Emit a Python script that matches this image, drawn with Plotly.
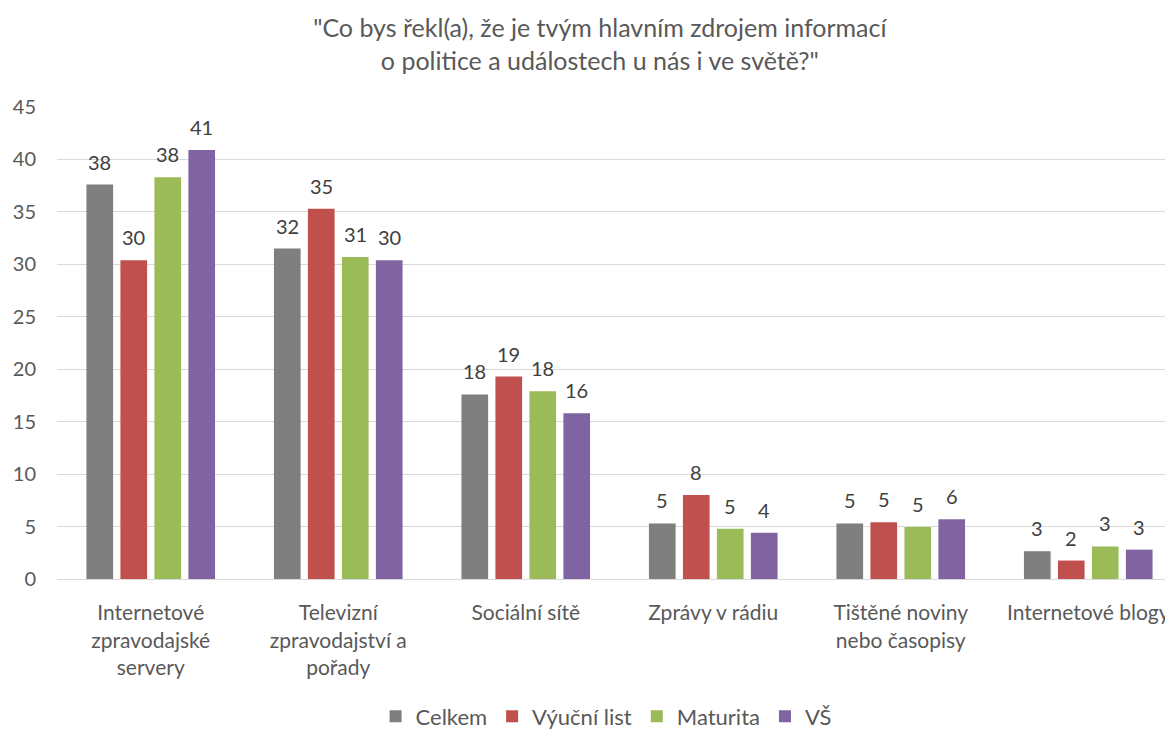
import plotly.graph_objects as go

categories = ["Internetové<br>zpravodajské<br>servery", "Televizní<br>zpravodajství a<br>pořady",
              "Sociální sítě", "Zprávy v rádiu", "Tištěné noviny<br>nebo časopisy", "Internetové blogy"]
series_names = ["Celkem", "Výuční list", "Maturita", "VŠ"]
celkem = [37.6, 31.5, 17.6, 5.3, 5.3, 2.65]
vyucni = [30.4, 35.3, 19.3, 8.0, 5.4, 1.76]
maturita = [38.3, 30.7, 17.9, 4.8, 4.95, 3.1]
vs = [40.9, 30.4, 15.8, 4.4, 5.7, 2.8]
colors = ["#7f7f7f", "#c0504d", "#9bbb59", "#8064a2"]
yticks = [0, 5, 10, 15, 20, 25, 30, 35, 40, 45]
title_text = "\"Co bys řekl(a), že je tvým hlavním zdrojem informací<br>o politice a událostech u nás i ve světě?\""

FONT = "Lato"
x_idx = list(range(len(categories)))
all_series = [celkem, vyucni, maturita, vs]

fig = go.Figure()
for name, vals, col in zip(series_names, all_series, colors):
    fig.add_trace(go.Bar(x=x_idx, y=vals, name=name, marker=dict(color=col, line=dict(width=0))))

annotations = []
for i, vals in enumerate(all_series):
    for xi, v in zip(x_idx, vals):
        annotations.append(dict(x=xi, y=v, xref="x", yref="y", text=f"{v:.0f}", showarrow=False,
                                xshift=(i - 1.5) * 34, yshift=23, yanchor="middle",
                                font=dict(family=FONT, size=20, color="#404040")))

W, H = 1165, 723
fig.update_layout(
    width=W, height=H,
    margin=dict(l=49, r=0, t=99, b=151.5, autoexpand=False),
    paper_bgcolor="white", plot_bgcolor="white",
    barmode="group", bargap=0.275, bargroupgap=0.215,
    title=dict(text=title_text, x=0.508, xanchor="center", y=1 - 29 / H, yanchor="middle",
               yref="container", font=dict(family=FONT, size=25, color="#595959")),
    legend=dict(orientation="h", x=0.492, xanchor="center", y=-0.291, yanchor="middle",
                font=dict(family=FONT, size=22, color="#595959"), traceorder="normal"),
    annotations=annotations,
)
fig.update_xaxes(tickvals=x_idx, ticktext=categories, range=[-0.5, 5.5 - 9 / 187.5],
                 showgrid=False, showline=True, linecolor="#d9d9d9", linewidth=1,
                 ticks="", ticklabelstandoff=15, automargin=False,
                 tickfont=dict(family=FONT, size=21, color="#595959"))
fig.update_yaxes(range=[0, 45], tickvals=yticks, showgrid=True, gridcolor="#d9d9d9", gridwidth=1,
                 zeroline=False, showline=False, ticks="", ticklabelstandoff=20, automargin=False,
                 tickfont=dict(family=FONT, size=20, color="#595959"))

fig.write_html("out.html")
